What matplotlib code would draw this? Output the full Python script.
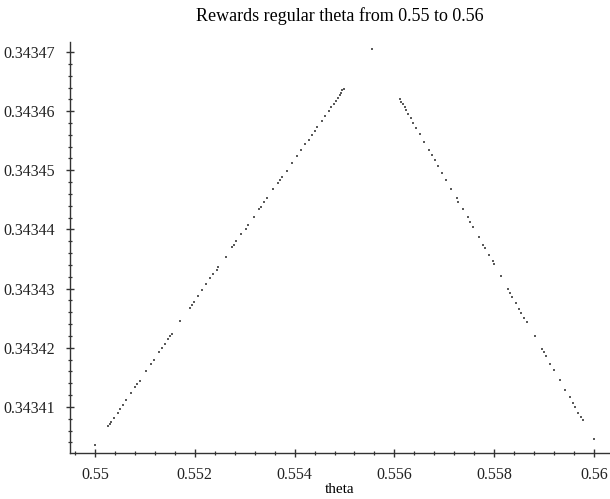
import matplotlib
matplotlib.use('Agg')
import matplotlib.pyplot as plt
from matplotlib.ticker import MultipleLocator, FuncFormatter

plt.rcParams['font.family'] = ['Liberation Serif', 'DejaVu Serif']

theta = [
    0.550000, 0.550254, 0.550294, 0.550326, 0.550380, 0.550454, 0.550500,
    0.550554, 0.550626, 0.550714, 0.550794, 0.550840, 0.550894, 0.551014,
    0.551126, 0.551174, 0.551280, 0.551346, 0.551394, 0.551460, 0.551506,
    0.551540, 0.551714, 0.551906, 0.551940, 0.551994, 0.552074, 0.552140,
    0.552226, 0.552314, 0.552374, 0.552440, 0.552474, 0.552626, 0.552754,
    0.552786, 0.552834, 0.552934, 0.553026, 0.553066, 0.553180, 0.553286,
    0.553320, 0.553386, 0.553446, 0.553566, 0.553666, 0.553714, 0.553754,
    0.553840, 0.553954, 0.554046, 0.554134, 0.554206, 0.554280, 0.554340,
    0.554400, 0.554446, 0.554540, 0.554614, 0.554680, 0.554734, 0.554786,
    0.554826, 0.554866, 0.554900, 0.554934, 0.554960, 0.554994,
    0.555546,
    0.556114, 0.556140, 0.556174, 0.556206, 0.556240, 0.556280, 0.556326,
    0.556380, 0.556440, 0.556514, 0.556594, 0.556694, 0.556746, 0.556806,
    0.556880, 0.556954, 0.557040, 0.557134, 0.557246, 0.557280, 0.557366,
    0.557466, 0.557514, 0.557566, 0.557686, 0.557780, 0.557814, 0.557886,
    0.557966, 0.558000, 0.558134, 0.558274, 0.558326, 0.558366, 0.558434,
    0.558500, 0.558546, 0.558606, 0.558654, 0.558814, 0.558960, 0.558994,
    0.559046, 0.559126, 0.559200, 0.559314, 0.559426, 0.559514, 0.559574,
    0.559626, 0.559686, 0.559740, 0.559774, 0.560000,
]

reward = [
    0.3434035, 0.3434067, 0.3434071, 0.3434075, 0.3434082, 0.3434090, 0.3434097,
    0.3434103, 0.3434112, 0.3434123, 0.3434133, 0.3434138, 0.3434144, 0.3434160,
    0.3434173, 0.3434179, 0.3434192, 0.3434200, 0.3434206, 0.3434214, 0.3434220,
    0.3434224, 0.3434245, 0.3434268, 0.3434272, 0.3434278, 0.3434288, 0.3434297,
    0.3434307, 0.3434318, 0.3434324, 0.3434332, 0.3434337, 0.3434354, 0.3434370,
    0.3434374, 0.3434380, 0.3434392, 0.3434401, 0.3434407, 0.3434421, 0.3434434,
    0.3434438, 0.3434446, 0.3434453, 0.3434468, 0.3434479, 0.3434484, 0.3434489,
    0.3434499, 0.3434513, 0.3434524, 0.3434535, 0.3434544, 0.3434552, 0.3434560,
    0.3434566, 0.3434573, 0.3434583, 0.3434592, 0.3434600, 0.3434607, 0.3434613,
    0.3434618, 0.3434623, 0.3434627, 0.3434631, 0.3434635, 0.3434638,
    0.3434705,
    0.3434621, 0.3434616, 0.3434612, 0.3434607, 0.3434602, 0.3434595, 0.3434588,
    0.3434580, 0.3434572, 0.3434561, 0.3434548, 0.3434534, 0.3434526, 0.3434517,
    0.3434507, 0.3434496, 0.3434484, 0.3434469, 0.3434453, 0.3434447, 0.3434435,
    0.3434421, 0.3434413, 0.3434405, 0.3434388, 0.3434373, 0.3434368, 0.3434357,
    0.3434347, 0.3434341, 0.3434322, 0.3434300, 0.3434293, 0.3434286, 0.3434276,
    0.3434266, 0.3434259, 0.3434250, 0.3434244, 0.3434220, 0.3434198, 0.3434193,
    0.3434186, 0.3434173, 0.3434163, 0.3434146, 0.3434128, 0.3434116, 0.3434107,
    0.3434100, 0.3434089, 0.3434083, 0.3434077, 0.3434045,
]

W, H = 610, 499
fig = plt.figure(figsize=(W / 100, H / 100), dpi=100)
ax = fig.add_axes([70 / W, 46 / H, 540 / W, 411 / H])

ax.plot(theta, reward, linestyle='none', marker='s', markersize=2.0,
        markeredgewidth=0, color='#5a5a5a')

ax.set_xlim(0.5495, 0.56032)
ax.set_ylim(0.3434022, 0.3434717)

for side in ('top', 'right'):
    ax.spines[side].set_visible(False)
for side in ('left', 'bottom'):
    ax.spines[side].set_color('#333333')
    ax.spines[side].set_linewidth(1.0)

ax.xaxis.set_major_locator(MultipleLocator(0.002))
ax.xaxis.set_minor_locator(MultipleLocator(0.0004))
ax.yaxis.set_major_locator(MultipleLocator(0.00001))
ax.yaxis.set_minor_locator(MultipleLocator(0.000002))
ax.xaxis.set_major_formatter(FuncFormatter(lambda v, p: '%g' % round(v, 4)))
ax.yaxis.set_major_formatter(FuncFormatter(lambda v, p: '%.5f' % v))

ax.tick_params(which='major', direction='inout', length=6, width=1.0,
               color='#333333', labelsize=11.5, labelcolor='#222222')
ax.tick_params(which='minor', direction='inout', length=3.5, width=0.9,
               color='#333333')
ax.tick_params(axis='x', which='major', pad=7)
ax.tick_params(axis='y', which='major', pad=8)

ax.set_title('Rewards regular theta from 0.55 to 0.56', fontsize=13, pad=15)
ax.set_xlabel('theta', fontsize=11, labelpad=0)

fig.savefig('out.png', dpi=100)
